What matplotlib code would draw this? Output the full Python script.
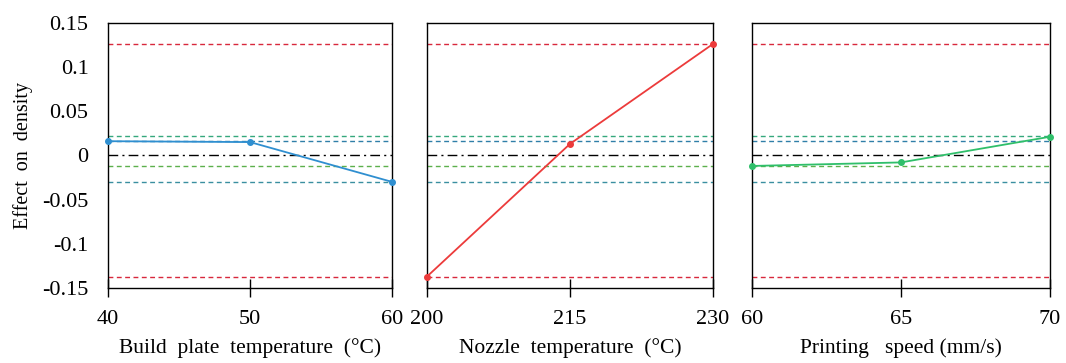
import matplotlib
matplotlib.use("Agg")
import matplotlib.pyplot as plt

# main effects of each factor on density
build_temp = [40, 50, 60]
build_eff = [0.016, 0.015, -0.030]
nozzle_temp = [200, 215, 230]
nozzle_eff = [-0.137, 0.013, 0.126]
speed = [60, 65, 70]
speed_eff = [-0.012, -0.008, 0.021]

# reference lines (limits of each factor's effect range)
red_lims = [0.126, -0.137]
blue_lims = [0.0166, -0.030]
green_lims = [0.0214, -0.0116]

yticks = [-0.15, -0.1, -0.05, 0, 0.05, 0.1, 0.15]
ytick_labels = ["-0.15", "-0.1", "-0.05", "0", "0.05", "0.1", "0.15"]

panels = [
    (build_temp, build_eff, "#2f8fd0", "Build  plate  temperature  (°C)"),
    (nozzle_temp, nozzle_eff, "#ec3b3b", "Nozzle  temperature  (°C)"),
    (speed, speed_eff, "#2fbf6a", "Printing   speed (mm/s)"),
]

plt.rcParams["font.family"] = ["Liberation Serif", "DejaVu Serif"]
fig = plt.figure(figsize=(10.66, 3.63), dpi=100)
rects = [
    [0.1013, 0.2066, 0.2664, 0.7309],
    [0.4006, 0.2066, 0.2683, 0.7309],
    [0.7054, 0.2066, 0.2795, 0.7309],
]

for i, (x, y, col, lab) in enumerate(panels):
    ax = fig.add_axes(rects[i])
    ax.axhline(red_lims[0], color="#d8283c", ls=(0, (3.5, 2.5)), lw=1.0)
    ax.axhline(red_lims[1], color="#d8283c", ls=(0, (3.5, 2.5)), lw=1.0)
    ax.axhline(green_lims[0], color="#35a87c", ls=(0, (3.5, 2.5)), lw=1.0)
    ax.axhline(blue_lims[0], color="#2f7fa8", ls=(0, (3.5, 2.5)), lw=1.0)
    ax.axhline(green_lims[1], color="#5cb04c", ls=(0, (3.5, 2.5)), lw=1.0)
    ax.axhline(blue_lims[1], color="#3a8fa0", ls=(0, (3.5, 2.5)), lw=1.0)
    ax.axhline(0, color="black", ls=(0, (7, 3, 1.5, 3)), lw=1.0)
    ax.plot(x, y, color=col, lw=1.3, marker="o", ms=4, clip_on=False, zorder=5)
    ax.set_xlim(x[0], x[-1])
    ax.set_ylim(-0.15, 0.15)
    ax.set_xticks(x)
    ax.set_xticklabels([str(v) for v in x])
    ax.tick_params(axis="x", direction="inout", length=13, width=1.0,
                   labelsize=16, pad=9)
    ax.set_xlabel(lab, fontsize=15.5, labelpad=7)
    if i == 0:
        ax.set_yticks(yticks)
        ax.set_yticklabels(ytick_labels)
        ax.tick_params(axis="y", length=0, labelsize=16, pad=14)
        ax.set_ylabel("Effect  on  density", fontsize=14.5)
        ax.yaxis.set_label_coords(-0.265, 0.5)
    else:
        ax.set_yticks([])
    for s in ax.spines.values():
        s.set_linewidth(1.0)

fig.savefig("out.png", dpi=100)
